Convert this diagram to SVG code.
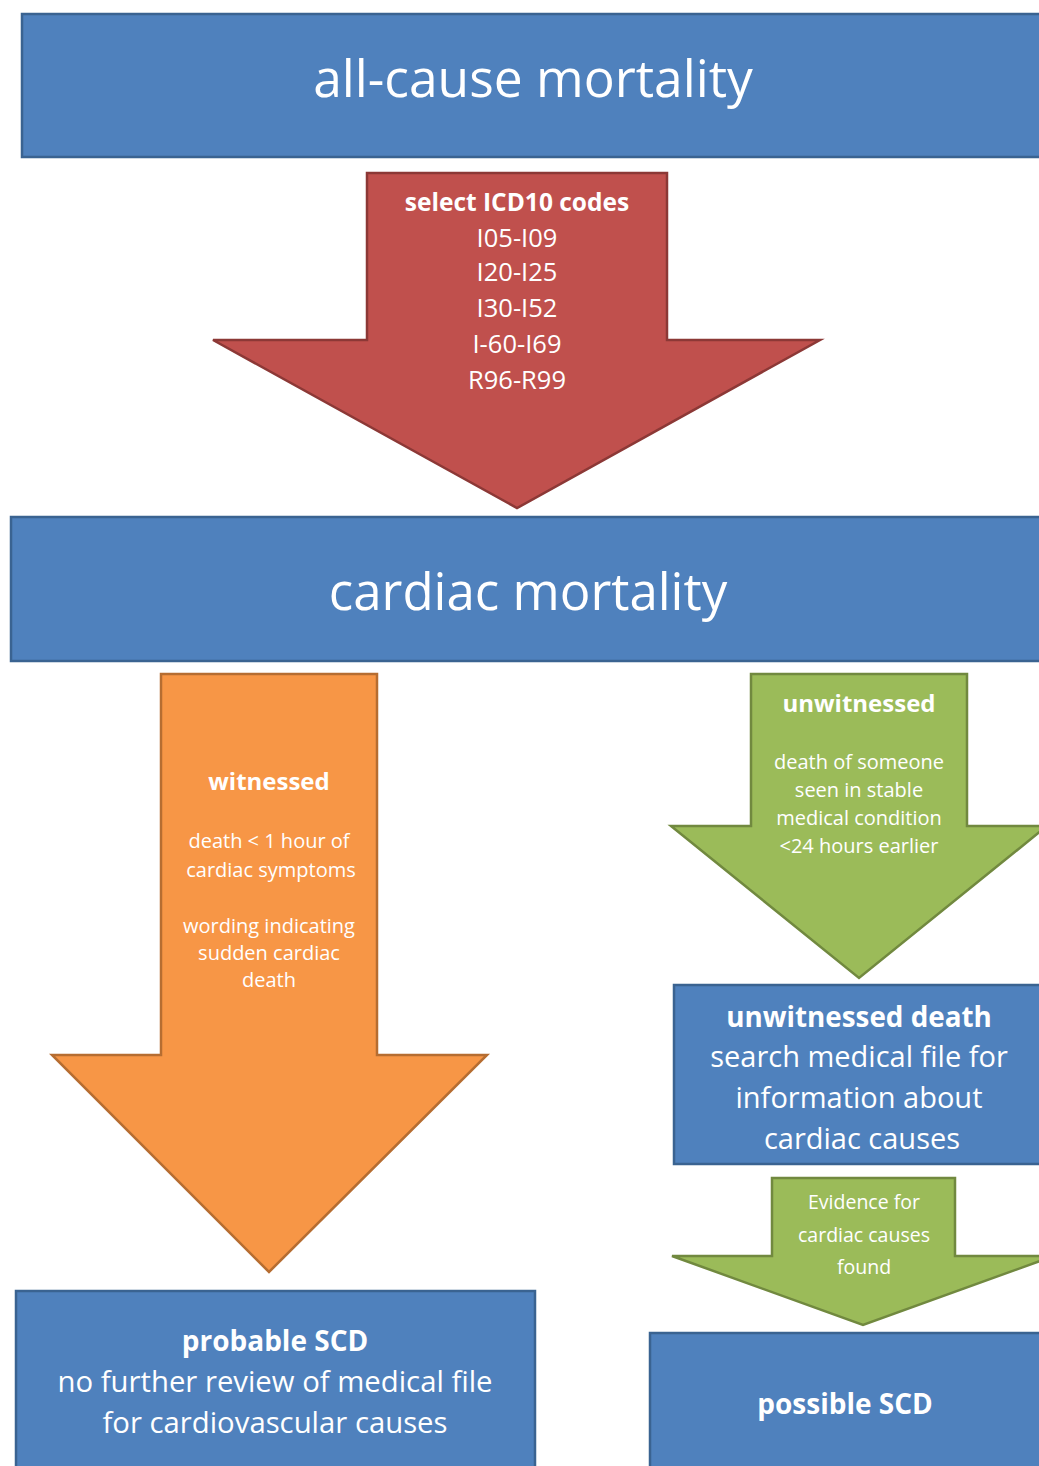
<svg xmlns="http://www.w3.org/2000/svg" width="1039" height="1466" viewBox="0 0 1039 1466">
  <style>
    text { font-family: "Open Sans", "Liberation Sans", sans-serif; fill: #ffffff; text-anchor: middle; }
    .b { font-weight: bold; }
    .box { fill: #4f81bd; stroke: #3a6391; stroke-width: 2.5; }
    .red { fill: #c0504d; stroke: #8c3836; stroke-width: 2.5; stroke-linejoin: miter; }
    .orange { fill: #f79646; stroke: #b66d31; stroke-width: 2.5; }
    .green { fill: #9bbb59; stroke: #71893f; stroke-width: 2.5; }
  </style>

  <rect width="1039" height="1466" fill="#ffffff"/>

  <!-- arrows joining the stages -->
  <g id="connectors">
    <g id="arrow-icd">
      <polygon class="red" points="367,173 667,173 667,340 820,340 517,508 213,340 367,340"/>
      <text class="b" x="517" y="211" font-size="24.5">select ICD10 codes</text>
      <text x="517" y="247" font-size="25.5">I05-I09</text>
      <text x="517" y="281" font-size="25.5">I20-I25</text>
      <text x="517" y="317" font-size="25.5">I30-I52</text>
      <text x="517" y="353" font-size="25.5">I-60-I69</text>
      <text x="517" y="389" font-size="25.5">R96-R99</text>
    </g>
    <g id="arrow-witnessed">
      <polygon class="orange" points="161,674 377,674 377,1055 487,1055 269,1272 52,1055 161,1055"/>
      <text class="b" x="269" y="790" font-size="24">witnessed</text>
      <text x="269" y="848" font-size="20">death &lt; 1 hour of</text>
      <text x="271" y="877" font-size="20">cardiac symptoms</text>
      <text x="269" y="933" font-size="20">wording indicating</text>
      <text x="269" y="960" font-size="20">sudden cardiac</text>
      <text x="269" y="987" font-size="20">death</text>
    </g>
    <g id="arrow-unwitnessed">
      <polygon class="green" points="751,674 967,674 967,826 1047,826 859,978 671,826 751,826"/>
      <text class="b" x="859" y="712" font-size="24">unwitnessed</text>
      <text x="859" y="769" font-size="20">death of someone</text>
      <text x="859" y="797" font-size="20">seen in stable</text>
      <text x="859" y="825" font-size="20">medical condition</text>
      <text x="859" y="853" font-size="20">&lt;24 hours earlier</text>
    </g>
    <g id="arrow-evidence">
      <polygon class="green" points="772,1178 955,1178 955,1256 1054,1256 863,1325 672,1256 772,1256"/>
      <text x="864" y="1209" font-size="19.5">Evidence for</text>
      <text x="864" y="1242" font-size="19.5">cardiac causes</text>
      <text x="864" y="1274" font-size="19.5">found</text>
    </g>
  </g>

  <g id="node-all-cause">
    <rect class="box" x="22" y="14" width="1030" height="143"/>
    <text x="533" y="97" font-size="51.5">all-cause mortality</text>
  </g>

  <g id="node-cardiac">
    <rect class="box" x="11" y="517" width="1040" height="144"/>
    <text x="528" y="610" font-size="51">cardiac mortality</text>
  </g>

  <g id="node-unwitnessed-death">
    <rect class="box" x="674" y="985" width="380" height="179"/>
    <text class="b" x="859" y="1027" font-size="27.8">unwitnessed death</text>
    <text x="859" y="1067" font-size="29">search medical file for</text>
    <text x="859" y="1108" font-size="29">information about</text>
    <text x="862" y="1149" font-size="29">cardiac causes</text>
  </g>

  <g id="node-probable">
    <rect class="box" x="16" y="1291" width="519" height="190"/>
    <text class="b" x="275" y="1351" font-size="28">probable SCD</text>
    <text x="275" y="1392" font-size="29.3">no further review of medical file</text>
    <text x="275" y="1433" font-size="29.3">for cardiovascular causes</text>
  </g>

  <g id="node-possible">
    <rect class="box" x="650" y="1333" width="404" height="150"/>
    <text class="b" x="845" y="1414" font-size="28">possible SCD</text>
  </g>
</svg>
